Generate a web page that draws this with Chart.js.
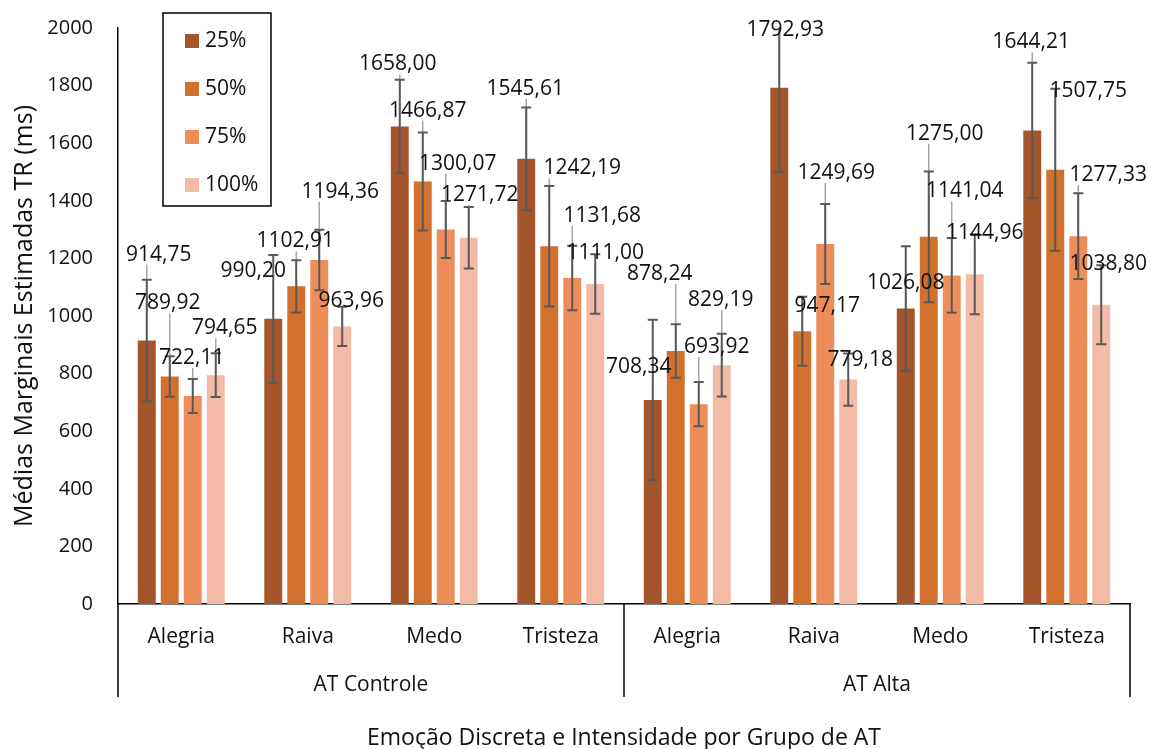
<!DOCTYPE html>
<html>
<head>
<meta charset="utf-8">
<script src="https://cdn.jsdelivr.net/npm/chart.js@4"></script>
<style>
  html, body { margin: 0; padding: 0; background: #fff; }
  #wrap { width: 1151px; height: 749px; }
</style>
</head>
<body>
<div id="wrap"><canvas id="chart"></canvas></div>
<script>
// categories: emotion per AT group
var emotions = ['Alegria', 'Raiva', 'Medo', 'Tristeza', 'Alegria', 'Raiva', 'Medo', 'Tristeza'];
var groups = ['AT Controle', 'AT Alta'];
var intensities = ['25%', '50%', '75%', '100%'];

// estimated marginal means (ms)
var means25  = [914.75, 990.20, 1658.00, 1545.61, 708.34, 1792.93, 1026.08, 1644.21];
var means50  = [789.92, 1102.91, 1466.87, 1242.19, 878.24, 947.17, 1275.00, 1507.75];
var means75  = [722.11, 1194.36, 1300.07, 1131.68, 693.92, 1249.69, 1141.04, 1277.33];
var means100 = [794.65, 963.96, 1271.72, 1111.00, 829.19, 779.18, 1144.96, 1038.80];

// error bar half-lengths (ms)
var err25  = [211, 222, 162, 178, 279, 293, 216, 235];
var err50  = [70, 91, 170, 209, 93, 120, 227, 281];
var err75  = [59, 105, 99, 112, 77, 139, 130, 149];
var err100 = [76, 68, 107, 103, 109, 91, 139, 137];

// where each value label was dragged to, in px from its bar top
var shift25  = [[12, -86], [-20, -48], [-2, -62], [-1, -70], [-14, -33], [6, -58], [0, -25], [-1, -88]];
var shift50  = [[-2, -73], [-1, -45], [5, -71], [33, -78], [-16, -77], [25, -25], [16, -103], [33, -79]];
var shift75  = [[-1, -38], [21, -68], [12, -66], [30, -62], [18, -57], [11, -71], [13, -84], [30, -61]];
var shift100 = [[9, -47], [9, -25], [11, -43], [10, -31], [-1, -65], [12, -20], [10, -41], [7, -41]];

var colors = ['#A5552A', '#D2702E', '#EC8D5A', '#F3BBA6'];
var FONT = "'Open Sans', sans-serif";

function fmt(v) {
    return v.toFixed(2).replace('.', ',');
}

var extras = {
    id: 'extras',
    afterDatasetsDraw: function(chart) {
        var ctx = chart.ctx;
        var yScale = chart.scales.y;
        var area = chart.chartArea;
        ctx.save();
        ctx.font = '21px ' + FONT;

        // leader lines
        chart.data.datasets.forEach(function(ds, i) {
            var meta = chart.getDatasetMeta(i);
            meta.data.forEach(function(bar, j) {
                var cx = bar.x + ds.shifts[j][0];
                var cy = bar.y + ds.shifts[j][1];
                var w = ctx.measureText(fmt(ds.data[j])).width / 2 + 2;
                var h = 10;
                var nx = Math.max(cx - w, Math.min(bar.x, cx + w));
                var ny = Math.max(cy - h, Math.min(bar.y, cy + h));
                if (Math.hypot(bar.x - nx, bar.y - ny) > 10) {
                    ctx.strokeStyle = '#A6A6A6';
                    ctx.lineWidth = 1.5;
                    ctx.beginPath();
                    ctx.moveTo(nx, ny);
                    ctx.lineTo(bar.x, bar.y);
                    ctx.stroke();
                }
            });
        });

        // error bars
        ctx.beginPath();
        ctx.rect(area.left, area.top, area.right - area.left, area.bottom - area.top);
        ctx.clip();
        ctx.strokeStyle = '#595959';
        ctx.lineWidth = 2;
        chart.data.datasets.forEach(function(ds, i) {
            var meta = chart.getDatasetMeta(i);
            meta.data.forEach(function(bar, j) {
                var yt = yScale.getPixelForValue(ds.data[j] + ds.errors[j]);
                var yb = yScale.getPixelForValue(ds.data[j] - ds.errors[j]);
                ctx.beginPath();
                ctx.moveTo(bar.x, yt); ctx.lineTo(bar.x, yb);
                ctx.moveTo(bar.x - 5, yt); ctx.lineTo(bar.x + 5, yt);
                ctx.moveTo(bar.x - 5, yb); ctx.lineTo(bar.x + 5, yb);
                ctx.stroke();
            });
        });
        ctx.restore();

        // value labels
        ctx.save();
        ctx.font = '21px ' + FONT;
        ctx.fillStyle = '#111';
        ctx.textAlign = 'center';
        ctx.textBaseline = 'middle';
        chart.data.datasets.forEach(function(ds, i) {
            var meta = chart.getDatasetMeta(i);
            meta.data.forEach(function(bar, j) {
                ctx.fillText(fmt(ds.data[j]), bar.x + ds.shifts[j][0], bar.y + ds.shifts[j][1]);
            });
        });
        ctx.restore();
    },
    afterDraw: function(chart) {
        var ctx = chart.ctx;
        var area = chart.chartArea;
        var x = chart.scales.x;
        ctx.save();

        // group separators and group names under the category labels
        var mid = (x.getPixelForTick(3) + x.getPixelForTick(4)) / 2;
        var lineBottom = area.bottom + 93;
        ctx.strokeStyle = '#000';
        ctx.lineWidth = 1.5;
        [area.left, mid, area.right].forEach(function(px) {
            ctx.beginPath();
            ctx.moveTo(px, area.bottom);
            ctx.lineTo(px, lineBottom);
            ctx.stroke();
        });
        ctx.font = '21px ' + FONT;
        ctx.fillStyle = '#111';
        ctx.textAlign = 'center';
        ctx.textBaseline = 'middle';
        ctx.fillText(groups[0], (area.left + mid) / 2, area.bottom + 81);
        ctx.fillText(groups[1], (mid + area.right) / 2, area.bottom + 81);

        // legend box inside the plot
        var bx = area.left + 45, by = area.top - 15, bw = 108, bh = 193;
        ctx.fillStyle = '#fff';
        ctx.fillRect(bx, by, bw, bh);
        ctx.strokeStyle = '#000';
        ctx.lineWidth = 1.5;
        ctx.strokeRect(bx, by, bw, bh);
        ctx.textAlign = 'left';
        chart.data.datasets.forEach(function(ds, i) {
            var ry = by + 28 + i * 48;
            ctx.fillStyle = ds.backgroundColor;
            ctx.fillRect(bx + 22, ry - 7, 14, 14);
            ctx.fillStyle = '#111';
            ctx.fillText(ds.label, bx + 42, ry);
        });
        ctx.restore();
    }
};

var meanSets = [means25, means50, means75, means100];
var errSets = [err25, err50, err75, err100];
var shiftSets = [shift25, shift50, shift75, shift100];

var datasets = intensities.map(function(name, i) {
    return {
        label: name,
        data: meanSets[i],
        errors: errSets[i],
        shifts: shiftSets[i],
        backgroundColor: colors[i],
        borderWidth: 0,
        categoryPercentage: 0.727,
        barPercentage: 0.78
    };
});

var ctx = document.getElementById('chart').getContext('2d');
var myChart = new Chart(ctx, {
    type: 'bar',
    data: {
        labels: emotions,
        datasets: datasets
    },
    options: {
        responsive: true,
        maintainAspectRatio: false,
        animation: false,
        layout: { padding: { top: 28, right: 21, left: 0, bottom: 0 } },
        plugins: {
            legend: { display: false },
            tooltip: { enabled: false }
        },
        scales: {
            x: {
                grid: { display: false, drawTicks: false },
                border: { display: true, color: '#000', width: 1.5 },
                ticks: { color: '#111', font: { family: FONT, size: 21 }, padding: 20 },
                title: {
                    display: true,
                    text: 'Emoção Discreta e Intensidade por Grupo de AT',
                    color: '#111',
                    font: { family: FONT, size: 23 },
                    padding: { top: 0, bottom: -3 }
                },
                afterFit: function(scale) { scale.height = 145; }
            },
            y: {
                min: 0,
                max: 2000,
                grid: { display: false, drawTicks: false },
                border: { display: true, color: '#000', width: 1.5 },
                ticks: {
                    stepSize: 200,
                    color: '#111',
                    font: { family: FONT, size: 20 },
                    padding: 25,
                    callback: function(value) { return String(value); }
                },
                title: {
                    display: true,
                    text: 'Médias Marginais Estimadas TR (ms)',
                    color: '#111',
                    font: { family: FONT, size: 25 },
                    padding: { top: 10, bottom: 0 }
                },
                afterFit: function(scale) {
                    scale.width = 118;
                    // the tick padding should not push the plot top down
                    scale.paddingTop = 10;
                    scale.paddingBottom = 10;
                }
            }
        }
    },
    plugins: [extras]
});
</script>
</body>
</html>
